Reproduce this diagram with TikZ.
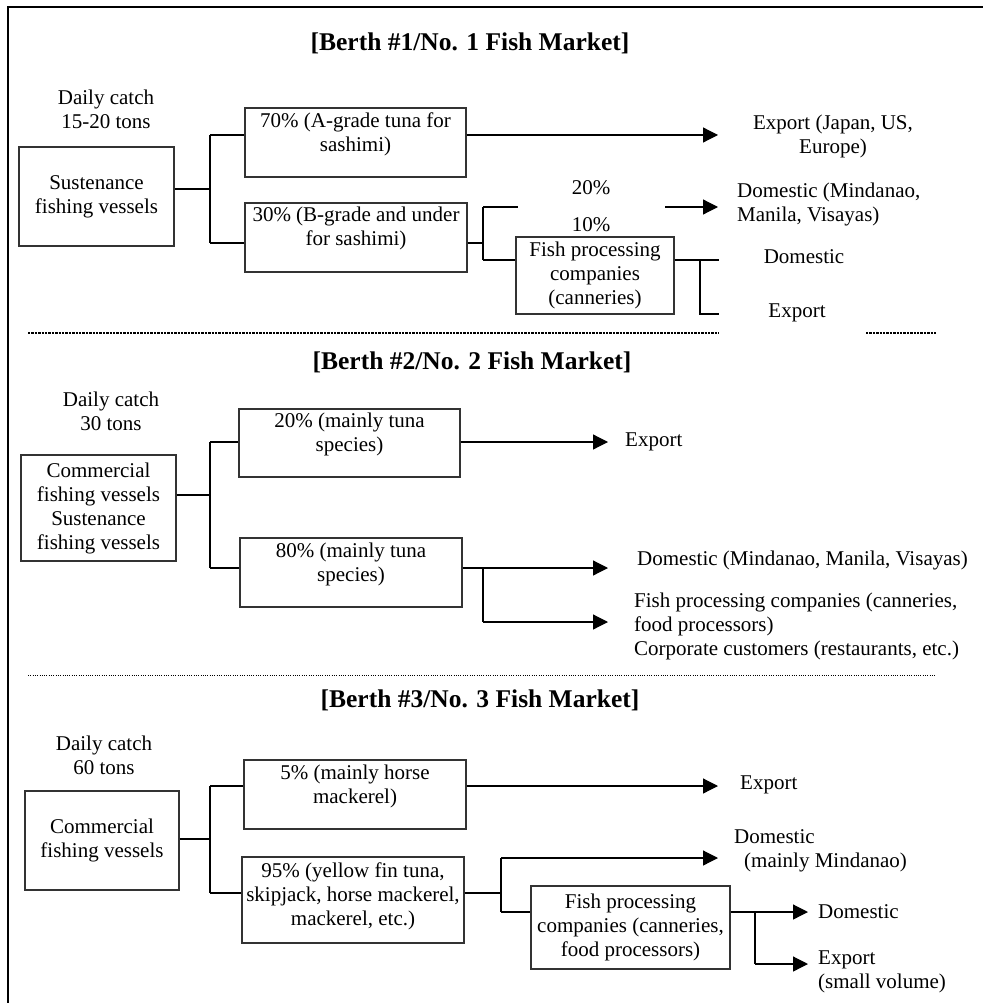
\documentclass[tikz,border=0pt]{standalone}
\usepackage{fontspec}
\setmainfont{Liberation Serif}
\usetikzlibrary{arrows.meta}
\begin{document}
\begin{tikzpicture}[x=1pt,y=-1pt,
 txt/.style={inner sep=0pt, align=center, font=\fontsize{21}{24}\selectfont},
 ltxt/.style={inner sep=0pt, align=left, anchor=west, font=\fontsize{21}{24}\selectfont},
 ttl/.style={inner sep=0pt, font=\fontsize{25.5}{28}\selectfont\bfseries},
 box/.style={draw=black!80, line width=1.1pt, inner sep=0pt, align=center, font=\fontsize{21}{24}\selectfont},
 ln/.style={line width=1.2pt},
 arr/.style={line width=1.2pt, -{Triangle[length=15pt,width=15pt]}},
 thickdots/.style={line width=2.4pt, dash pattern=on 2.4pt off 1pt},
 thindots/.style={line width=1pt, dash pattern=on 1pt off 1.3pt},
]
\useasboundingbox (0,0) rectangle (983,1003);
% frame
\draw[line width=2.2pt] (8,1003) -- (8,7) -- (983,7);

%%%%%%%%%%%%%%%% Section 1
\node[ttl] (t1) at (470,43) {[Berth \#1/No. 1 Fish Market]};
\node[txt] (dc1) at (106,109) {Daily catch\\15-20 tons};
\node[box, minimum width=155pt, minimum height=99pt] (s1) at (96.5,196.5) {Sustenance\\fishing vessels};
\node[box, minimum width=221pt, minimum height=69pt] (a1) at (355.5,142.5) {};
\node[txt] (a1t) at (355.5,134) {70\% (A-grade tuna for\\sashimi)};
\node[box, minimum width=222pt, minimum height=69pt] (b1) at (356,237.5) {};
\node[txt] (b1t) at (356,228) {30\% (B-grade and under\\for sashimi)};
\node[box, minimum width=158pt, minimum height=77pt] (fp1) at (595,275.5) {Fish processing\\companies\\(canneries)};
\node[txt] (e1) at (833,136) {Export (Japan, US,\\Europe)};
\node[ltxt] (d1) at (737,204.5) {Domestic (Mindanao,\\Manila, Visayas)};
\node[txt] (p20) at (591,188) {20\%};
\node[txt] (p10) at (591,225) {10\%};
\node[txt] (d1b) at (804,257) {Domestic};
\node[txt] (e1b) at (797,313) {Export};

\coordinate (j1) at (210,189);
\coordinate (j1a) at (210,135);
\coordinate (j1b) at (210,243);
\coordinate (k1) at (483,243);
\coordinate (k1a) at (483,207);
\coordinate (k1b) at (483,260);
\coordinate (m1) at (700,260);
\coordinate (m1b) at (700,314);
\coordinate (tipE1) at (718,135);
\coordinate (tipD1) at (718,207);
\coordinate (g1) at (518,207);
\coordinate (g2) at (665,207);
\coordinate (endD1) at (719,260);
\coordinate (endE1) at (719,314);

\draw[ln] (s1.east |- j1) -- (j1);
\draw[ln] (j1a) -- (j1b);
\draw[ln] (j1a) -- (a1.west |- j1a);
\draw[ln] (j1b) -- (b1.west |- j1b);
\draw[arr] (a1.east |- j1a) -- (tipE1);
\draw[ln] (b1.east |- k1) -- (k1);
\draw[ln] (k1a) -- (k1b);
\draw[ln] (k1a) -- (g1);
\draw[arr] (g2) -- (tipD1);
\draw[ln] (k1b) -- (fp1.west |- k1b);
\draw[ln] (fp1.east |- m1) -- (endD1);
\draw[ln] (m1) -- (m1b) -- (endE1);

\draw[thickdots] (28,333) -- (719,333);
\draw[thickdots] (866,333) -- (937,333);

%%%%%%%%%%%%%%%% Section 2
\node[ttl] (t2) at (472,362) {[Berth \#2/No. 2 Fish Market]};
\node[txt] (dc2) at (111,411.5) {Daily catch\\30 tons};
\node[box, minimum width=155pt, minimum height=106pt] (s2) at (98.5,508) {Commercial\\fishing vessels\\Sustenance\\fishing vessels};
\node[box, minimum width=221pt, minimum height=68pt] (a2) at (349.5,443) {};
\node[txt] (a2t) at (349.5,434) {20\% (mainly tuna\\species)};
\node[box, minimum width=222pt, minimum height=69pt] (b2) at (351,572.5) {};
\node[txt] (b2t) at (351,564) {80\% (mainly tuna\\species)};
\node[ltxt] (e2) at (625,442) {Export};
\node[ltxt] (d2) at (637,560) {Domestic (Mindanao, Manila, Visayas)};
\node[ltxt] (f2) at (634,626) {Fish processing companies (canneries,\\food processors)\\Corporate customers (restaurants, etc.)};

\coordinate (j2) at (210,495);
\coordinate (j2a) at (210,442);
\coordinate (j2b) at (210,568);
\coordinate (k2) at (483,568);
\coordinate (k2b) at (483,622);
\coordinate (tipE2) at (608,442);
\coordinate (tipD2) at (608,568);
\coordinate (tipF2) at (608,622);

\draw[ln] (s2.east |- j2) -- (j2);
\draw[ln] (j2a) -- (j2b);
\draw[ln] (j2a) -- (a2.west |- j2a);
\draw[ln] (j2b) -- (b2.west |- j2b);
\draw[arr] (a2.east |- j2a) -- (tipE2);
\draw[arr] (b2.east |- k2) -- (tipD2);
\draw[ln] (k2) -- (k2b);
\draw[arr] (k2b) -- (tipF2);

\draw[thindots] (28,675) -- (935,675);

%%%%%%%%%%%%%%%% Section 3
\node[ttl] (t3) at (480,700) {[Berth \#3/No. 3 Fish Market]};
\node[txt] (dc3) at (104,755) {Daily catch\\60 tons};
\node[box, minimum width=154pt, minimum height=99pt] (s3) at (102,840.5) {Commercial\\fishing vessels};
\node[box, minimum width=222pt, minimum height=69pt] (a3) at (355,794.5) {};
\node[txt] (a3t) at (355,786) {5\% (mainly horse\\mackerel)};
\node[box, minimum width=222pt, minimum height=86pt] (b3) at (353,900) {};
\node[txt] (b3t) at (353,896) {95\% (yellow fin tuna,\\skipjack, horse mackerel,\\mackerel, etc.)};
\node[box, minimum width=199pt, minimum height=83pt] (fp3) at (630.5,927.5) {Fish processing\\companies (canneries,\\food processors)};
\node[ltxt] (e3) at (740,785) {Export};
\node[ltxt] (d3) at (734,851) {Domestic\\\hspace{10pt}(mainly Mindanao)};
\node[ltxt] (d3b) at (818,912) {Domestic};
\node[ltxt] (e3b) at (818,972) {Export\\(small volume)};

\coordinate (j3) at (210,839);
\coordinate (j3a) at (210,786);
\coordinate (j3b) at (210,893);
\coordinate (k3) at (501,893);
\coordinate (k3a) at (501,858);
\coordinate (k3b) at (501,912);
\coordinate (m3) at (755,912);
\coordinate (m3b) at (755,964);
\coordinate (tipE3) at (718,786);
\coordinate (tipD3) at (718,858);
\coordinate (tipD3b) at (808,912);
\coordinate (tipE3b) at (808,964);

\draw[ln] (s3.east |- j3) -- (j3);
\draw[ln] (j3a) -- (j3b);
\draw[ln] (j3a) -- (a3.west |- j3a);
\draw[ln] (j3b) -- (b3.west |- j3b);
\draw[arr] (a3.east |- j3a) -- (tipE3);
\draw[ln] (b3.east |- k3) -- (k3);
\draw[ln] (k3a) -- (k3b);
\draw[arr] (k3a) -- (tipD3);
\draw[ln] (k3b) -- (fp3.west |- k3b);
\draw[arr] (fp3.east |- m3) -- (tipD3b);
\draw[ln] (m3) -- (m3b);
\draw[arr] (m3b) -- (tipE3b);
\end{tikzpicture}
\end{document}
